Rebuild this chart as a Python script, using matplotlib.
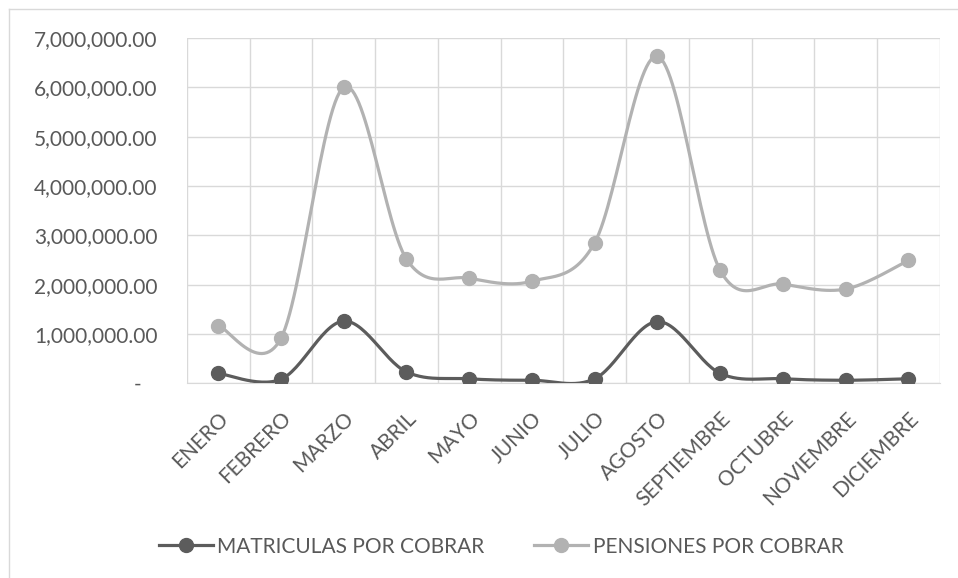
import numpy as np
import matplotlib.pyplot as plt
from matplotlib.lines import Line2D
from matplotlib.ticker import FuncFormatter

MESES = ['ENERO', 'FEBRERO', 'MARZO', 'ABRIL', 'MAYO', 'JUNIO', 'JULIO',
         'AGOSTO', 'SEPTIEMBRE', 'OCTUBRE', 'NOVIEMBRE', 'DICIEMBRE']
MATRICULAS = [200000, 80000, 1260000, 230000, 90000, 60000, 90000,
              1250000, 200000, 90000, 60000, 90000]
PENSIONES = [1170000, 910000, 6000000, 2520000, 2130000, 2070000, 2850000,
             6630000, 2290000, 2010000, 1910000, 2490000]

DARK = '#5c5c5c'
LIGHT = '#b2b2b2'
TEXT = '#595959'
GRID = '#d9d9d9'

plt.rcParams['font.family'] = ['Lato', 'DejaVu Sans']


# excel-like smoothing: catmull-rom as cubic bezier
def smooth(x, y, n=30):
    x = np.asarray(x, float)
    y = np.asarray(y, float)
    xs, ys = [], []
    for i in range(len(x) - 1):
        i0 = max(i - 1, 0)
        i3 = min(i + 2, len(x) - 1)
        p0 = np.array([x[i], y[i]])
        p3 = np.array([x[i + 1], y[i + 1]])
        p1 = p0 + (np.array([x[i + 1], y[i + 1]]) - np.array([x[i0], y[i0]])) / 6
        p2 = p3 - (np.array([x[i3], y[i3]]) - np.array([x[i], y[i]])) / 6
        t = np.linspace(0, 1, n)[:, None]
        pts = ((1 - t) ** 3) * p0 + 3 * ((1 - t) ** 2) * t * p1 + 3 * (1 - t) * t ** 2 * p2 + t ** 3 * p3
        xs.extend(pts[:, 0])
        ys.extend(pts[:, 1])
    return np.array(xs), np.array(ys)


def fmt(v, pos):
    if abs(v) < 1:
        return '-   '
    return f'{v:,.2f}'


fig = plt.figure(figsize=(9.58, 5.78), dpi=100)
ax = fig.add_axes([0.195, 0.337, 0.786, 0.597])

x = np.arange(len(MESES))
for vals, col in [(MATRICULAS, DARK), (PENSIONES, LIGHT)]:
    sx, sy = smooth(x, vals)
    ax.plot(sx, sy, color=col, lw=2.3, solid_capstyle='round', zorder=3)
    ax.plot(x, vals, ls='none', marker='o', ms=10, color=col, zorder=4)

ax.set_xlim(-0.5, len(MESES) - 0.5)
ax.set_ylim(0, 7000000)
ax.set_yticks(np.arange(0, 7000001, 1000000))
ax.yaxis.set_major_formatter(FuncFormatter(fmt))
ax.set_xticks(x)
ax.set_xticklabels(MESES, rotation=45, ha='right', rotation_mode='anchor')
ax.set_xticks(np.arange(-0.5, len(MESES), 1), minor=True)

ax.grid(True, which='major', axis='y', color=GRID, lw=1)
ax.grid(True, which='minor', axis='x', color=GRID, lw=1)
for s in ax.spines.values():
    s.set_visible(False)
ax.spines['bottom'].set_visible(True)
ax.spines['bottom'].set_color(GRID)
ax.tick_params(which='both', length=0)
ax.tick_params(axis='y', labelsize=15, labelcolor=TEXT, pad=21)
ax.tick_params(axis='x', labelsize=15, labelcolor=TEXT, pad=18)

handles = [Line2D([], [], color=DARK, lw=2.3, marker='o', ms=10),
           Line2D([], [], color=LIGHT, lw=2.3, marker='o', ms=10)]
fig.legend(handles, ['MATRICULAS POR COBRAR', 'PENSIONES POR COBRAR'],
           loc='center', bbox_to_anchor=(0.523, 0.054), ncol=2, frameon=False,
           fontsize=15, labelcolor=TEXT, handlelength=2.6, handletextpad=0.2,
           columnspacing=2.4)

# outer chart border (top and left only visible)
fig.add_artist(Line2D([9 / 958, 9 / 958], [0, 1 - 9 / 578], transform=fig.transFigure,
                      color=GRID, lw=1))
fig.add_artist(Line2D([9 / 958, 1], [1 - 9 / 578, 1 - 9 / 578], transform=fig.transFigure,
                      color=GRID, lw=1))

fig.savefig('out.png', dpi=100)
